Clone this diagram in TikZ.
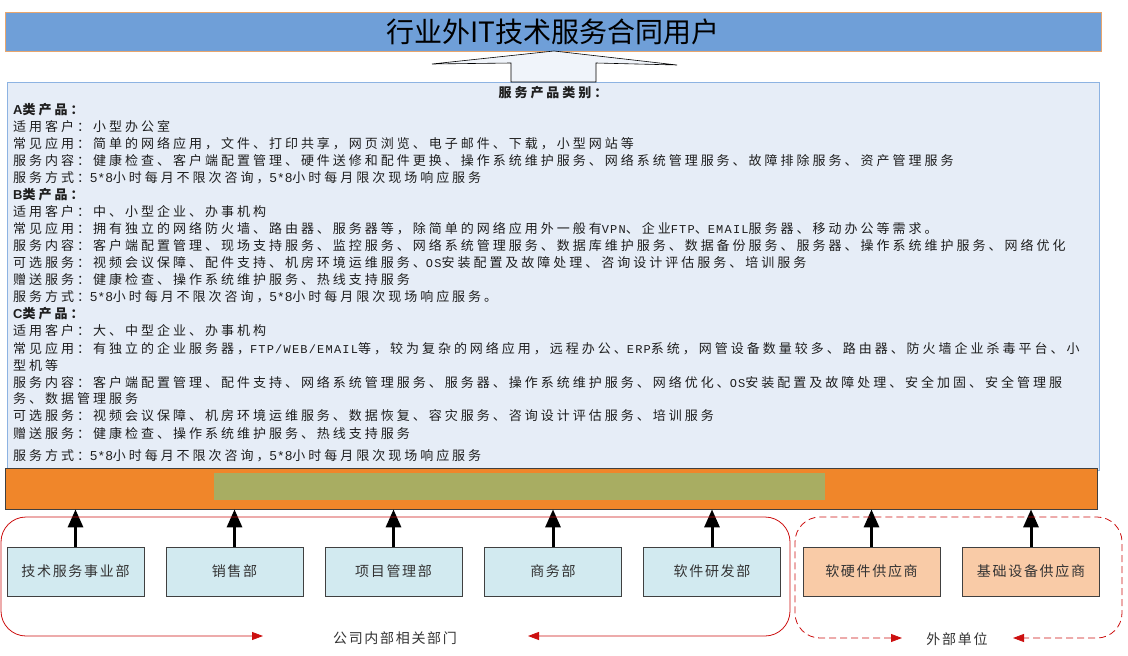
\documentclass[tikz,border=0pt]{standalone}
\usepackage{fontspec}
\usetikzlibrary{arrows.meta}
\newfontfamily\cjk{Noto Sans CJK SC}[LetterSpace=23]
\newfontfamily\cjklab{Noto Sans CJK SC}[LetterSpace=12]
\newfontfamily\cjktitle{Noto Sans CJK SC}
\newfontfamily\enmonofont{Liberation Mono}[LetterSpace=10]
\newfontfamily\ensansfont{Liberation Sans}[LetterSpace=12]
\newcommand\enm[1]{{\enmonofont\fontsize{12}{15}\selectfont #1}}
\newcommand\ens[1]{{\ensansfont\fontsize{13}{15}\selectfont #1}}
\definecolor{titlefill}{HTML}{6F9FD8}
\definecolor{titleedge}{HTML}{E8A66E}
\definecolor{contentfill}{HTML}{E6EDF7}
\definecolor{contentedge}{HTML}{8DB3E2}
\definecolor{barfill}{HTML}{F0862A}
\definecolor{greenfill}{HTML}{A8AD62}
\definecolor{deptfill}{HTML}{D2EAF0}
\definecolor{suppfill}{HTML}{F9CBA7}
\definecolor{boxedge}{HTML}{404040}
\definecolor{redline}{HTML}{CC1010}
\definecolor{textgray}{HTML}{1E1E1E}
\definecolor{labgray}{HTML}{333333}
\tikzset{
  txt/.style={anchor=west, inner sep=0pt, font=\cjk\fontsize{13}{15}\selectfont, text=textgray},
  txtb/.style={txt, font=\cjk\fontsize{13}{15}\selectfont\bfseries},
  dept/.style={draw=boxedge, line width=0.8pt, fill=deptfill, minimum width=137pt, minimum height=49pt, inner sep=0pt, font=\cjklab\fontsize{14}{16}\selectfont, text=labgray},
  supp/.style={dept, fill=suppfill},
  uparrow/.style={line width=3pt, -{Triangle[length=18pt,width=15pt]}},
  redtip/.style={{Triangle[length=11pt,width=8pt]}-{Triangle[length=11pt,width=8pt]}},
  grouplab/.style={inner sep=0pt, font=\cjklab\fontsize{14}{16}\selectfont, text=labgray}
}
\begin{document}
\begin{tikzpicture}[x=1pt,y=-1pt]
\useasboundingbox (0,0) rectangle (1128,656);
% title
\node[draw=titleedge, line width=1pt, fill=titlefill, minimum width=1096pt, minimum height=39pt, inner sep=0pt,
      font=\cjktitle\fontsize{28}{30}\selectfont, text=black] (title) at (553,31.5) {行业外IT技术服务合同用户};
% content box
\node[draw=contentedge, line width=1pt, fill=contentfill, minimum width=1092pt, minimum height=388pt, inner sep=0pt] (content) at (553,276) {};
% hollow arrow
\draw[fill=contentfill!60!white, draw=black, line width=0.6pt, line join=miter]
  (554,51) -- (677,65) -- (596,63) -- (596,82) -- (511,82) -- (511,63) -- (432,64) -- cycle;
% text
\node[txtb, anchor=center] (hdr) at (553,93) {服务产品类别：};
\node[txtb] (l1) at (13,110) {\ens{\bfseries A}类产品：};
\node[txt] (l2) at (13,127) {适用客户：小型办公室};
\node[txt] (l3) at (13,144) {常见应用：简单的网络应用，文件、打印共享，网页浏览、电子邮件、下载，小型网站等};
\node[txt] (l4) at (13,161) {服务内容：健康检查、客户端配置管理、硬件送修和配件更换、操作系统维护服务、网络系统管理服务、故障排除服务、资产管理服务};
\node[txt] (l5) at (13,178) {服务方式：\ens{5*8}小时每月不限次咨询，\ens{5*8}小时每月限次现场响应服务};
\node[txtb] (l6) at (13,195) {\ens{\bfseries B}类产品：};
\node[txt] (l7) at (13,212) {适用客户：中、小型企业、办事机构};
\node[txt] (l8) at (13,229) {常见应用：拥有独立的网络防火墙、路由器、服务器等，除简单的网络应用外一般有\enm{VPN}、企业\enm{FTP}、\enm{EMAIL}服务器、移动办公等需求。};
\node[txt] (l9) at (13,246) {服务内容：客户端配置管理、现场支持服务、监控服务、网络系统管理服务、数据库维护服务、数据备份服务、服务器、操作系统维护服务、网络优化};
\node[txt] (l10) at (13,263) {可选服务：视频会议保障、配件支持、机房环境运维服务、\enm{OS}安装配置及故障处理、咨询设计评估服务、培训服务};
\node[txt] (l11) at (13,280) {赠送服务：健康检查、操作系统维护服务、热线支持服务};
\node[txt] (l12) at (13,297) {服务方式：\ens{5*8}小时每月不限次咨询，\ens{5*8}小时每月限次现场响应服务。};
\node[txtb] (l13) at (13,314) {\ens{\bfseries C}类产品：};
\node[txt] (l14) at (13,331) {适用客户：大、中型企业、办事机构};
\node[txt] (l15) at (13,349) {常见应用：有独立的企业服务器，\enm{FTP/WEB/EMAIL}等，较为复杂的网络应用，远程办公、\enm{ERP}系统，网管设备数量较多、路由器、防火墙企业杀毒平台、小};
\node[txt] (l16) at (13,366) {型机等};
\node[txt] (l17) at (13,383) {服务内容：客户端配置管理、配件支持、网络系统管理服务、服务器、操作系统维护服务、网络优化、\enm{OS}安装配置及故障处理、安全加固、安全管理服};
\node[txt] (l18) at (13,399) {务、数据管理服务};
\node[txt] (l19) at (13,416) {可选服务：视频会议保障、机房环境运维服务、数据恢复、容灾服务、咨询设计评估服务、培训服务};
\node[txt] (l20) at (13,434) {赠送服务：健康检查、操作系统维护服务、热线支持服务};
\node[txt] (l21) at (13,456) {服务方式：\ens{5*8}小时每月不限次咨询，\ens{5*8}小时每月限次现场响应服务};
% orange bar
\node[draw=boxedge, line width=0.8pt, fill=barfill, minimum width=1092pt, minimum height=41pt, inner sep=0pt] (bar) at (551,488.5) {};
\node[fill=greenfill, minimum width=611pt, minimum height=27pt, inner sep=0pt] (green) at (519.5,486.5) {};
% departments
\node[dept] (d1) at (75.5,571.5) {技术服务事业部};
\node[dept] (d2) at (234.5,571.5) {销售部};
\node[dept] (d3) at (393.5,571.5) {项目管理部};
\node[dept] (d4) at (553,571.5) {商务部};
\node[dept] (d5) at (712,571.5) {软件研发部};
\node[supp] (s1) at (871.5,571.5) {软硬件供应商};
\node[supp] (s2) at (1031,571.5) {基础设备供应商};
\foreach \n in {d1,d2,d3,d4,d5,s1,s2}
  \draw[uparrow] (\n.north) -- (\n.north |- bar.south);
% group outlines
\coordinate (inL) at (263,636);
\coordinate (inR) at (528,636);
\coordinate (exL) at (902,638);
\coordinate (exR) at (1013,638);
\draw[redline, line width=0.8pt, redtip, rounded corners=25pt]
  (inL) -- (1,636) -- (1,517) -- (790,517) -- (790,636) -- (inR);
\draw[redline, line width=0.8pt, redtip, rounded corners=25pt, dash pattern=on 7pt off 4pt]
  (exL) -- (795,638) -- (795,517) -- (1122,517) -- (1122,638) -- (exR);
\node[grouplab] (inlab) at (395,638) {公司内部相关部门};
\node[grouplab] (exlab) at (957,639) {外部单位};
\end{tikzpicture}
\end{document}
